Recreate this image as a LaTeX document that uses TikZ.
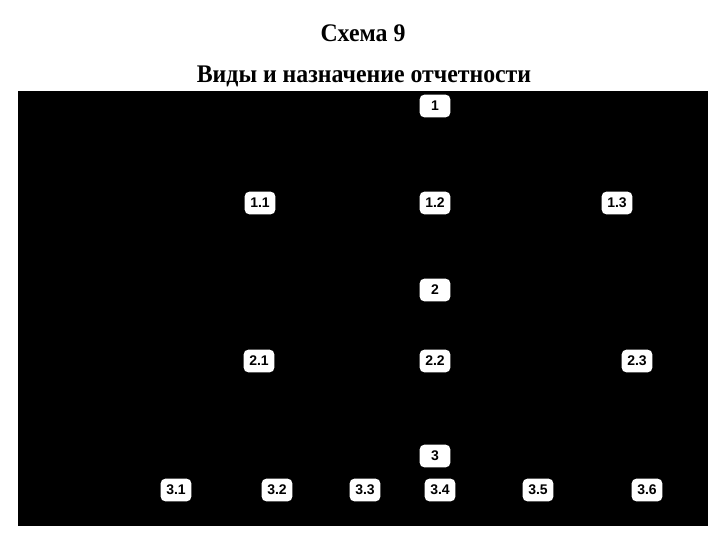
\documentclass[tikz,border=0pt]{standalone}
\usepackage{fontspec}
\setmainfont{Liberation Serif}
\setsansfont{Liberation Sans}
\begin{document}
\begin{tikzpicture}[x=0.75pt, y=-0.75pt,
        box/.style={fill=white, rounded corners=3.5pt, minimum width=23pt, minimum height=17pt, inner sep=1pt, font=\sffamily\bfseries\fontsize{10.5}{11}\selectfont},
        heading/.style={font=\bfseries\fontsize{19}{22}\selectfont, xscale=0.94}]
        \useasboundingbox (0,0) rectangle (720,540);

        % Titles
        \node[heading] (scheme) at (363,33) {Схема 9};
        \node[heading] (title) at (364,76) {Виды и назначение отчетности};

        % Black field
        \fill[black] (18,91) rectangle (708,526);

        % Level 1
        \node[box] (n1) at (435,106) {1};
        \node[box] (n11) at (260,203) {1.1};
        \node[box] (n12) at (435,203) {1.2};
        \node[box] (n13) at (617,203) {1.3};

        % Level 2
        \node[box] (n2) at (435,290) {2};
        \node[box] (n21) at (259,361) {2.1};
        \node[box] (n22) at (435,361) {2.2};
        \node[box] (n23) at (637,361) {2.3};

        % Level 3
        \node[box] (n3) at (435,456) {3};
        \node[box] (n31) at (176,490) {3.1};
        \node[box] (n32) at (277,490) {3.2};
        \node[box] (n33) at (365,490) {3.3};
        \node[box] (n34) at (440,490) {3.4};
        \node[box] (n35) at (538,490) {3.5};
        \node[box] (n36) at (647,490) {3.6};
    \end{tikzpicture}
\end{document}
